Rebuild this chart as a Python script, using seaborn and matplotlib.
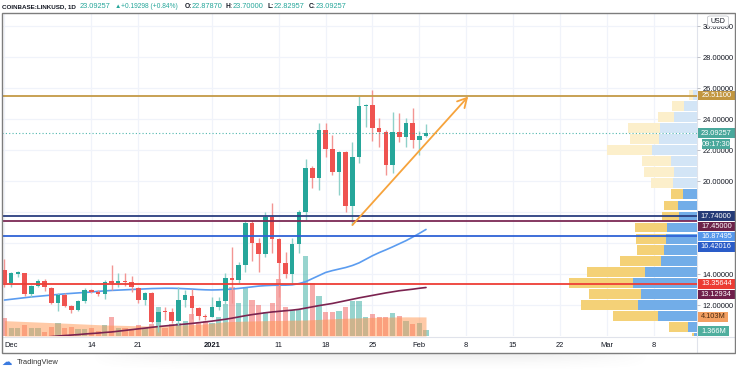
import numpy as np
import pandas as pd
import matplotlib
matplotlib.use("Agg")
import matplotlib.pyplot as plt
import seaborn as sns
from matplotlib.patches import Rectangle, FancyBboxPatch

sns.set_theme(style="white")
plt.rcParams["font.family"] = ["Liberation Sans", "DejaVu Sans"]

# ---------------- data ----------------
symbol = "COINBASE:LINKUSD, 1D"
last_close = 23.09257
last_change = 0.19298
last_change_pct = 0.84
countdown = "09:17:30"

# daily candles, Dec 1 2020 (day 0) .. Feb 2 2021 (day 63)
opens = [14.26, 13.40, 14.02, 14.05, 12.71, 13.23, 13.55, 13.10, 12.15, 12.64, 11.94, 11.65, 12.28,
         12.97, 12.86, 12.71, 13.50, 13.45, 13.55, 13.50, 13.08, 12.32, 12.80, 10.93, 11.57, 11.57,
         10.99, 12.35, 12.58, 11.79, 11.29, 11.25, 11.89, 12.26, 13.72, 13.61, 14.58, 17.31, 16.02,
         15.29, 17.70, 16.24, 14.69, 14.00, 15.94, 18.02, 20.82, 20.17, 23.29, 22.06, 20.56, 21.89,
         18.41, 21.57, 24.84, 24.90, 23.40, 23.14, 21.03, 23.14, 22.82, 23.72, 22.65, 22.8787]
highs = [14.97, 14.15, 14.22, 14.08, 13.27, 13.66, 13.66, 13.16, 12.75, 12.75, 12.00, 12.32, 13.08,
         13.01, 12.97, 13.61, 14.58, 14.06, 14.05, 13.87, 13.18, 12.86, 12.86, 11.89, 11.89, 11.79,
         13.18, 12.97, 13.01, 11.89, 11.40, 12.50, 12.50, 14.05, 15.76, 14.80, 17.48, 17.48, 16.30,
         18.02, 18.56, 16.30, 15.44, 16.30, 18.13, 21.40, 21.00, 23.76, 23.72, 22.97, 21.96, 21.96,
         22.54, 25.48, 24.97, 25.87, 24.04, 23.30, 24.47, 24.37, 24.04, 24.69, 23.25, 23.70]
lows = [13.18, 13.18, 13.79, 12.58, 12.54, 13.14, 12.92, 12.08, 11.61, 11.89, 11.46, 11.63, 12.11,
        12.75, 12.58, 12.36, 12.97, 13.18, 13.23, 12.86, 12.11, 12.00, 10.82, 10.28, 11.03, 10.82,
        10.71, 11.89, 11.10, 11.03, 11.03, 11.20, 11.68, 11.90, 12.13, 13.40, 14.15, 14.86, 14.15,
        15.12, 15.37, 12.54, 13.72, 13.40, 15.37, 17.48, 19.53, 19.42, 21.57, 20.39, 19.10, 18.02,
        17.16, 21.14, 23.50, 22.60, 22.21, 20.39, 20.54, 22.54, 22.21, 22.11, 21.68, 22.82957]
closes = [13.40, 14.05, 14.10, 12.71, 13.23, 13.55, 13.14, 12.15, 12.64, 11.94, 11.68, 12.28, 12.97,
          12.86, 12.71, 13.50, 13.45, 13.55, 13.50, 13.14, 12.32, 12.80, 10.93, 11.57, 11.52, 10.99,
          12.35, 12.64, 11.79, 11.29, 11.20, 11.89, 12.26, 13.72, 13.61, 14.58, 17.31, 16.02, 15.29,
          17.70, 16.24, 14.69, 14.00, 15.94, 18.02, 20.82, 20.17, 23.29, 22.06, 20.56, 21.89, 18.41,
          21.57, 24.84, 24.90, 23.40, 23.14, 21.03, 23.14, 22.82, 23.72, 22.65, 22.90, 23.09257]
# volume in millions
volumes = [3.8, 1.7, 1.7, 2.4, 1.8, 1.7, 0.9, 2.0, 2.9, 1.7, 2.0, 1.5, 1.5, 1.7, 1.1, 2.4, 4.0, 1.8,
           1.8, 1.3, 2.4, 1.7, 2.6, 6.2, 1.7, 2.6, 2.7, 3.3, 4.7, 2.7, 3.3, 2.7, 4.0, 6.8, 10.6, 7.2,
           10.6, 7.7, 6.7, 5.2, 7.2, 12.2, 6.3, 5.6, 5.6, 17.2, 11.3, 8.6, 5.2, 5.2, 5.4, 6.2, 7.6,
           7.6, 4.1, 4.7, 4.0, 4.0, 4.9, 4.3, 3.3, 2.6, 2.7, 1.366]
volume_ma = [3.30, 3.24, 3.18, 3.12, 3.06, 3.00, 2.94, 2.88, 2.82, 2.76, 2.70, 2.63, 2.57, 2.50,
             2.44, 2.37, 2.34, 2.31, 2.28, 2.24, 2.21, 2.18, 2.15, 2.19, 2.22, 2.26, 2.32, 2.39,
             2.45, 2.52, 2.58, 2.75, 2.91, 3.07, 3.11, 3.16, 3.20, 3.23, 3.27, 3.30, 3.33, 3.35,
             3.37, 3.40, 3.42, 3.44, 3.50, 3.57, 3.63, 3.70, 3.76, 3.81, 3.86, 3.90, 3.95, 4.00,
             4.03, 4.05, 4.08, 4.10, 4.12, 4.11, 4.11, 4.103]
ma_fast = [12.32, 12.37, 12.42, 12.47, 12.52, 12.56, 12.60, 12.64, 12.68, 12.72, 12.75, 12.78, 12.81,
           12.84, 12.88, 12.91, 12.94, 12.96, 12.98, 13.00, 13.02, 13.04, 13.06, 13.07, 13.08, 13.08,
           13.07, 13.05, 13.03, 13.00, 12.98, 12.97, 12.98, 13.00, 13.03, 13.07, 13.12, 13.17, 13.22,
           13.25, 13.27, 13.28, 13.28, 13.30, 13.38, 13.50, 13.70, 13.90, 14.10, 14.22, 14.32, 14.42,
           14.55, 14.72, 14.95, 15.18, 15.38, 15.56, 15.75, 15.95, 16.15, 16.38, 16.62, 16.87495]
ma_slow = [9.72, 9.76, 9.80, 9.84, 9.87, 9.90, 9.93, 9.96, 10.00, 10.03, 10.06, 10.09, 10.13, 10.16,
           10.19, 10.23, 10.26, 10.31, 10.36, 10.41, 10.46, 10.51, 10.56, 10.61, 10.65, 10.69, 10.73,
           10.77, 10.81, 10.86, 10.91, 10.96, 11.02, 11.08, 11.15, 11.23, 11.31, 11.38, 11.44, 11.50,
           11.55, 11.59, 11.63, 11.67, 11.72, 11.80, 11.88, 11.96, 12.03, 12.10, 12.19, 12.28, 12.37,
           12.46, 12.54, 12.62, 12.70, 12.78, 12.85, 12.92, 12.97, 13.02, 13.08, 13.12934]

# time axis
tick_days = [0, 13, 20, 31, 41, 48, 55, 62, 69, 76, 83, 90, 97]
tick_labels = ["Dec", "14", "21", "2021", "11", "18", "25", "Feb", "8", "15", "22", "Mar", "8"]
price_ticks = [12, 14, 16, 18, 20, 22, 24, 26, 28, 30]
hidden_price_ticks = [16, 18]   # covered by the level labels on the price scale

# drawn horizontal levels
level_prices = [25.511, 17.74, 17.45, 16.42016, 13.35644]
level_colors = ["#c49a45", "#2b3f80", "#7c2a55", "#2f62d6", "#ee3e36"]

# trend arrow (day, price)
trend_days = [52, 69.3]
trend_prices = [17.16, 25.45]

# visible range volume profile (row price, up volume, down volume; arbitrary units)
profile_price = [25.57, 24.86, 24.14, 23.43, 22.71, 22.00, 21.28, 20.57, 19.85, 19.14, 18.42, 17.71,
                 17.00, 16.28, 15.57, 14.85, 14.14, 13.42, 12.71, 11.99, 11.28, 10.56, 9.85]
profile_up = [4.4, 12.7, 22.7, 37.0, 38.4, 45.0, 26.0, 23.4, 23.7, 14.4, 19.4, 17.7, 30.4, 31.0,
              32.7, 36.0, 51.7, 63.7, 55.7, 58.7, 39.4, 9.4, 3.0]
profile_down = [4.0, 12.3, 16.7, 31.7, 28.3, 45.0, 29.0, 29.3, 22.3, 11.6, 13.3, 17.3, 31.3, 30.0,
                27.3, 40.7, 58.7, 64.0, 52.0, 57.3, 45.0, 19.0, 2.0]
value_area_high = 19.5

df = pd.DataFrame({"day": np.arange(len(opens)), "open": opens, "high": highs, "low": lows,
                   "close": closes, "volume": volumes, "vol_ma": volume_ma,
                   "ma_fast": ma_fast, "ma_slow": ma_slow})

# ---------------- layout ----------------
W, H = 736, 371
fig = plt.figure(figsize=(W / 100, H / 100), dpi=100)
fig.patch.set_facecolor("white")


def rect(x0, y0, x1, y1):
    return [x0 / W, 1 - y1 / H, (x1 - x0) / W, (y1 - y0) / H]


POS = rect(2, 12.7, 697, 336)
XLIM = (-0.37, 103.5)
YLIM = (10.0, 30.86)
VOL_TOP = 69.5
GRID = "#f0f3fa"
TEAL = "#26a69a"
RED = "#ef5350"
DARK = "#131722"

# background grid
ax_bg = fig.add_axes(POS, zorder=0)
ax_bg.set_xlim(XLIM)
ax_bg.set_ylim(YLIM)
for d in tick_days:
    ax_bg.axvline(d, color=GRID, lw=0.9)
for p in price_ticks:
    ax_bg.axhline(p, color=GRID, lw=0.9)
ax_bg.axis("off")

# volume pane
ax_vol = fig.add_axes(POS, zorder=1)
ax_vol.set_facecolor("none")
ax_vol.set_xlim(XLIM)
ax_vol.set_ylim(0, VOL_TOP)
up = df["close"] >= df["open"]
ax_vol.bar(df["day"], df["volume"], width=0.78, color=np.where(up, TEAL, RED), alpha=0.48, lw=0)
ax_vol.fill_between(df["day"], 0, df["vol_ma"], color="#ff9650", alpha=0.5, lw=0)
ax_vol.axis("off")

# volume profile
ax_prof = fig.add_axes(POS, zorder=2)
ax_prof.set_facecolor("none")
ax_prof.set_xlim(695, 0)
ax_prof.set_ylim(YLIM)
in_va = np.array(profile_price) < value_area_high
blue_c = np.where(in_va, "#72ade8", "#d3e5f6")
yell_c = np.where(in_va, "#f4d177", "#fcefcb")
ax_prof.barh(profile_price, profile_up, height=0.64, left=0, color=blue_c, lw=0)
ax_prof.barh(profile_price, profile_down, height=0.64, left=profile_up, color=yell_c, lw=0)
ax_prof.axis("off")

# price pane
ax = fig.add_axes(POS, zorder=3)
ax.set_facecolor("none")
ax.set_xlim(XLIM)
ax.set_ylim(YLIM)

sns.lineplot(data=df, x="day", y="ma_slow", ax=ax, color="#7b2350", lw=1.2, legend=False, zorder=2)
sns.lineplot(data=df, x="day", y="ma_fast", ax=ax, color="#5b9cf0", lw=1.2, legend=False, zorder=2)

wick_c = np.where(up, "#8fd1c9", "#f39593")
ax.vlines(df["day"], df["low"], df["high"], colors=wick_c, lw=1.0, zorder=3)
body_h = np.maximum((df["close"] - df["open"]).abs(), 0.07)
ax.bar(df["day"], body_h, bottom=np.minimum(df["open"], df["close"]), width=0.68,
       color=np.where(up, TEAL, RED), lw=0, zorder=4)

for p, c in zip(level_prices, level_colors):
    ax.axhline(p, color=c, lw=1.3, zorder=5)
ax.axhline(last_close, color=TEAL, lw=0.8, ls=(0, (1, 2)), alpha=0.8, zorder=5)

ax.annotate("", xy=(trend_days[1], trend_prices[1]), xytext=(trend_days[0], trend_prices[0]),
            arrowprops=dict(arrowstyle="->,head_length=0.55,head_width=0.3", color="#f6a33c",
                            lw=1.3, shrinkA=0, shrinkB=0), zorder=6)

ax.set_xlabel("")
ax.set_ylabel("")
ax.set_xticks(tick_days)
ax.set_xticklabels(tick_labels)
ax.yaxis.tick_right()
ax.set_yticks(price_ticks)
ax.set_yticklabels(["" if p in hidden_price_ticks else f"{p:.5f}" for p in price_ticks])
ax.tick_params(axis="x", length=0, pad=4.2, labelsize=5.4, labelcolor=DARK)
ax.tick_params(axis="y", length=2.2, width=0.6, color="#b2b5be", pad=1.6, labelsize=5.4,
               labelcolor=DARK)
for lab in ax.get_xticklabels():
    if lab.get_text() == "2021":
        lab.set_fontweight("bold")
    if lab.get_text() == "Dec":
        lab.set_horizontalalignment("left")
        lab.set_x(-0.3)
for s in ax.spines.values():
    s.set_visible(False)

# ---------------- frame ----------------
fig.add_artist(plt.Line2D([697.3 / W] * 2, [1 - 12.7 / H, 1 - 352.5 / H], color="#e0e3eb", lw=0.8))
fig.add_artist(plt.Line2D([1.5 / W, 735 / W], [1 - 336.8 / H] * 2, color="#e0e3eb", lw=0.8))
fig.add_artist(Rectangle((1.5 / W, 1 - 352.5 / H), 733.5 / W, 339.8 / H, transform=fig.transFigure,
                         fill=False, ec="#7d7d7d", lw=1.0, zorder=20))

# ---------------- price-scale labels ----------------
fig.canvas.draw()


def y_px(axis, v):
    return H - axis.transData.transform((0, v))[1]


def scale_label(text, yc, bg, fg="white", x0=697.7, x1=735.0, h=9.4):
    fig.add_artist(Rectangle((x0 / W, 1 - (yc + h / 2) / H), (x1 - x0) / W, h / H,
                             transform=fig.transFigure, color=bg, lw=0, zorder=10))
    fig.text((x0 + x1) / 2 / W, 1 - yc / H, text, ha="center", va="center", color=fg,
             fontsize=5.3, zorder=11)


labels = [(last_close, "#4aa89c"), (level_prices[0], "#c2963f"), (level_prices[1], "#243a76"),
          (level_prices[2], "#6c2249"), (ma_fast[-1], "#5597ec"), (level_prices[3], "#2a5cc8"),
          (level_prices[4], "#ec3b33"), (ma_slow[-1], "#6f1f4b")]
labels.sort(key=lambda t: -t[0])
prev = -100
placed = {}
for p, c in labels:
    yc = max(y_px(ax, p), prev + 10.3)
    prev = yc
    placed[p] = yc
    scale_label(f"{p:.5f}", yc, c)
# countdown under the last price
yc_cd = placed[last_close] + 11
fig.add_artist(Rectangle((701.7 / W, 1 - (yc_cd + 4.6) / H), 28.5 / W, 9.2 / H,
                         transform=fig.transFigure, color="#4aa89c", lw=0, zorder=10))
fig.text(716 / W, 1 - yc_cd / H, countdown, ha="center", va="center", color="white",
         fontsize=5.3, zorder=11)
# volume labels
scale_label(f"{volume_ma[-1]:.3f}M", y_px(ax_vol, volume_ma[-1]), "#f3a062", fg="#4a2a10",
            x1=728.3)
scale_label(f"{volumes[-1]:.3f}M", y_px(ax_vol, volumes[-1]) + 1.5, "#4fae9e", x1=729.3)

# USD box
fig.add_artist(FancyBboxPatch((707.5 / W, 1 - 26.5 / H), 21 / W, 10.5 / H,
                              boxstyle="round,pad=0,rounding_size=0.004", transform=fig.transFigure,
                              fc="white", ec="#c5c7cc", lw=0.6, zorder=12))
fig.text(718 / W, 1 - 21.2 / H, "USD", ha="center", va="center", color=DARK, fontsize=5.0,
         zorder=13)

# ---------------- header ----------------
segs = [(symbol, 2, DARK, "bold", 4.5),
        (f"{last_close:.5f}", 80, TEAL, "normal", 5.3),
        ("▲", 114.5, TEAL, "normal", 4.6),
        (f"+{last_change:.5f} (+{last_change_pct:.2f}%)", 121, TEAL, "normal", 4.8),
        ("O:", 184.5, DARK, "bold", 4.8), (f"{opens[-1]:.5f}", 191.5, TEAL, "normal", 5.3),
        ("H:", 226, DARK, "bold", 4.8), (f"{highs[-1]:.5f}", 232.5, TEAL, "normal", 5.3),
        ("L:", 268, DARK, "bold", 4.8), (f"{lows[-1]:.5f}", 274, TEAL, "normal", 5.3),
        ("C:", 309, DARK, "bold", 4.8), (f"{closes[-1]:.5f}", 315.5, TEAL, "normal", 5.3)]
for txt, x, col, wt, fs in segs:
    fig.text(x / W, 1 - 6.3 / H, txt, ha="left", va="center", color=col, fontweight=wt,
             fontsize=fs)

# ---------------- footer ----------------
fig.text(1.5 / W, 1 - 362.0 / H, "☁", ha="left", va="center", color="#3b7be0", fontsize=7.5,
         family=["DejaVu Sans"])
fig.text(16.5 / W, 1 - 362.5 / H, "TradingView", ha="left", va="center", color="#333333",
         fontsize=5.4)

# soft page shadow under the frame
sh = fig.add_axes(rect(90, 353.5, 650, 371), zorder=-1)
yy = np.linspace(0, 1, 30)[:, None]
xx = np.linspace(-1, 1, 200)[None, :]
alpha = 0.13 * (1 - yy) ** 1.5 * np.clip(1 - xx ** 4, 0, 1)
img = np.zeros((30, 200, 4))
img[..., :3] = 0.45
img[..., 3] = alpha
sh.imshow(img, aspect="auto", extent=(0, 1, 0, 1), origin="upper")
sh.axis("off")

fig.savefig("out.png", dpi=100, facecolor="white")
